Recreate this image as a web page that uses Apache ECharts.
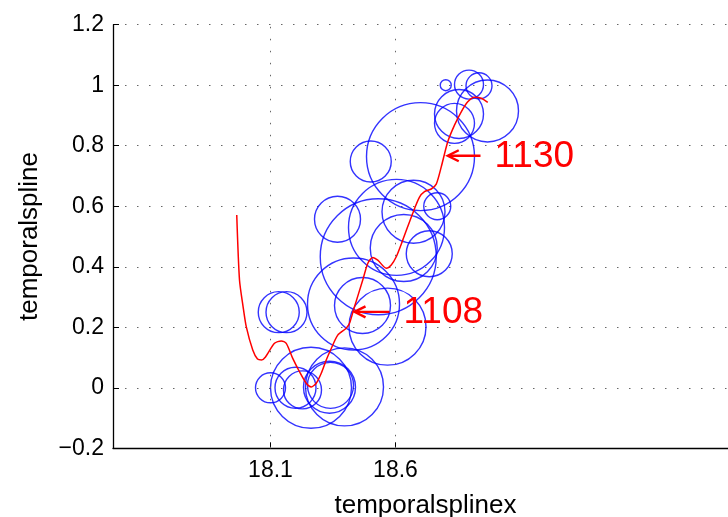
<!DOCTYPE html>
<html>
<head>
<meta charset="utf-8">
<script src="https://cdn.jsdelivr.net/npm/echarts@6/dist/echarts.min.js"></script>
<style>
html,body{margin:0;padding:0;background:#fff;}
#chart{width:728px;height:517px;}
</style>
</head>
<body>
<div id="chart"></div>
<script>
// ---- data ----
const circleX = [18.100, 18.200, 18.228, 18.262, 18.336, 18.340, 18.396,
                 18.133, 18.164,
                 18.368, 18.531, 18.604, 18.633, 18.672, 18.767, 18.735, 18.501, 18.700, 18.432, 18.468, 18.568,
                 18.801, 18.894, 18.934, 18.854, 18.836, 18.968];
const circleY = [0.000, 0.000, -0.007, 0.000, 0.002, 0.008, 0.003,
                 0.250, 0.250,
                 0.557, 0.433, 0.530, 0.462, 0.582, 0.600, 0.443, 0.748, 0.764, 0.277, 0.272, 0.202,
                 1.000, 1.002, 0.998, 0.905, 0.874, 0.915];
const circleMagnitude = [30, 41, 38, 81, 52, 46, 78,
                 41, 41,
                 46, 116, 96, 67, 63, 27, 46, 41, 108, 92, 56, 77,
                 11, 29, 26, 49, 40, 62];

const splineX = [17.965, 17.976, 17.990, 18.003, 18.029, 18.048, 18.064, 18.080, 18.116, 18.143, 18.163,
                 18.189, 18.216, 18.243, 18.263, 18.283, 18.303, 18.323, 18.343, 18.369, 18.402, 18.416,
                 18.436, 18.469, 18.489, 18.509, 18.529, 18.563, 18.583, 18.603, 18.629, 18.669, 18.696,
                 18.716, 18.743, 18.763, 18.783, 18.809, 18.836, 18.863, 18.889, 18.916, 18.943, 18.969];
const splineY = [0.571, 0.356, 0.270, 0.202, 0.125, 0.095, 0.092, 0.102, 0.147, 0.155, 0.147,
                 0.097, 0.053, 0.015, 0.003, 0.015, 0.048, 0.092, 0.130, 0.174, 0.196, 0.213,
                 0.268, 0.356, 0.411, 0.431, 0.422, 0.395, 0.406, 0.433, 0.488, 0.577, 0.630,
                 0.648, 0.657, 0.673, 0.730, 0.813, 0.868, 0.912, 0.945, 0.960, 0.957, 0.943];

const annotLabels = ['1130', '1108'];
const annotTipX = [18.809, 18.436];
const annotTipY = [0.767, 0.251];
const annotTailX = [18.940, 18.576];

const xTickValues = [18.1, 18.6];
const xTickLabels = ['18.1', '18.6'];
const yTickValues = [-0.2, 0, 0.2, 0.4, 0.6, 0.8, 1.0, 1.2];
const yTickLabels = ['\u22120.2', '0', '0.2', '0.4', '0.6', '0.8', '1', '1.2'];

// ---- chart ----
const FONT = 'Liberation Sans, Arial, Helvetica, sans-serif';
const chart = echarts.init(document.getElementById('chart'), null, {renderer: 'canvas'});

const circleData = circleX.map((x, i) => [x, circleY[i], circleMagnitude[i]]);
const splineData = splineX.map((x, i) => [x, splineY[i]]);
const annotData = annotLabels.map((t, i) => [annotTipX[i], annotTipY[i], annotTailX[i], i]);

const dotted = {color: '#666', width: 1, type: [1.5, 10.5]};

chart.setOption({
  animation: false,
  backgroundColor: '#fff',
  grid: {left: 113, top: 24.7, width: 625, height: 423.6, containLabel: false, outerBoundsMode: 'none'},
  xAxis: {
    type: 'value', min: 17.47, max: 19.97,
    name: 'temporalsplinex', nameLocation: 'middle', nameGap: 45,
    nameTextStyle: {fontFamily: FONT, fontSize: 26, color: '#000'},
    axisLine: {show: true, onZero: false, lineStyle: {color: '#000', width: 1.3}},
    axisTick: {show: true, inside: true, length: 6, customValues: xTickValues, lineStyle: {color: '#000', width: 1}},
    axisLabel: {show: true, customValues: xTickValues, margin: 11, fontFamily: FONT, fontSize: 23, color: '#000',
      formatter: v => { const i = xTickValues.findIndex(t => Math.abs(t - v) < 1e-6); return i >= 0 ? xTickLabels[i] : ''; }},
    splitLine: {show: false}
  },
  yAxis: {
    type: 'value', min: -0.2, max: 1.2, interval: 0.2,
    name: 'temporalspline', nameLocation: 'middle', nameGap: 70, nameRotate: 90,
    nameTextStyle: {fontFamily: FONT, fontSize: 26, color: '#000'},
    axisLine: {show: true, onZero: false, lineStyle: {color: '#000', width: 1.3}},
    axisTick: {show: true, inside: true, length: 6, lineStyle: {color: '#000', width: 1}},
    axisLabel: {margin: 9, fontFamily: FONT, fontSize: 23, color: '#000',
      formatter: v => { const i = yTickValues.findIndex(t => Math.abs(t - v) < 1e-6); return i >= 0 ? yTickLabels[i] : ''; }},
    splitLine: {show: true, lineStyle: dotted}
  },
  series: [
    {
      type: 'scatter',
      data: circleData,
      symbol: 'circle',
      symbolSize: v => v[2],
      itemStyle: {color: 'rgba(0,0,0,0)', borderColor: '#0000ff', borderWidth: 1.4},
      silent: true,
      markLine: {
        silent: true, symbol: 'none', label: {show: false},
        lineStyle: dotted,
        data: xTickValues.map(v => ({xAxis: v}))
      },
      z: 2
    },
    {
      type: 'line',
      data: splineData,
      smooth: 0.25,
      showSymbol: false,
      lineStyle: {color: '#ff0000', width: 1.5},
      silent: true,
      z: 3
    },
    {
      type: 'custom',
      data: annotData,
      encode: {x: [0, 2], y: 1},
      z: 4,
      silent: true,
      renderItem: (params, api) => {
        const tip = api.coord([api.value(0), api.value(1)]);
        const tail = api.coord([api.value(2), api.value(1)]);
        const idx = api.value(3);
        return {
          type: 'group',
          children: [
            {type: 'line', shape: {x1: tip[0] + 1, y1: tip[1], x2: tail[0], y2: tail[1]},
             style: {stroke: '#ff0000', lineWidth: 2.4}},
            {type: 'polyline', shape: {points: [[tip[0] + 11, tip[1] - 5.5], [tip[0], tip[1]], [tip[0] + 11, tip[1] + 5.5]]},
             style: {stroke: '#ff0000', lineWidth: 2.4, fill: null}},
            {type: 'text', style: {text: annotLabels[idx], x: tail[0] + 14, y: tip[1] + 1, align: 'left', verticalAlign: 'middle',
             fill: '#ff0000', fontFamily: FONT, fontSize: 37}}
          ]
        };
      }
    }
  ]
});
</script>
</body>
</html>
